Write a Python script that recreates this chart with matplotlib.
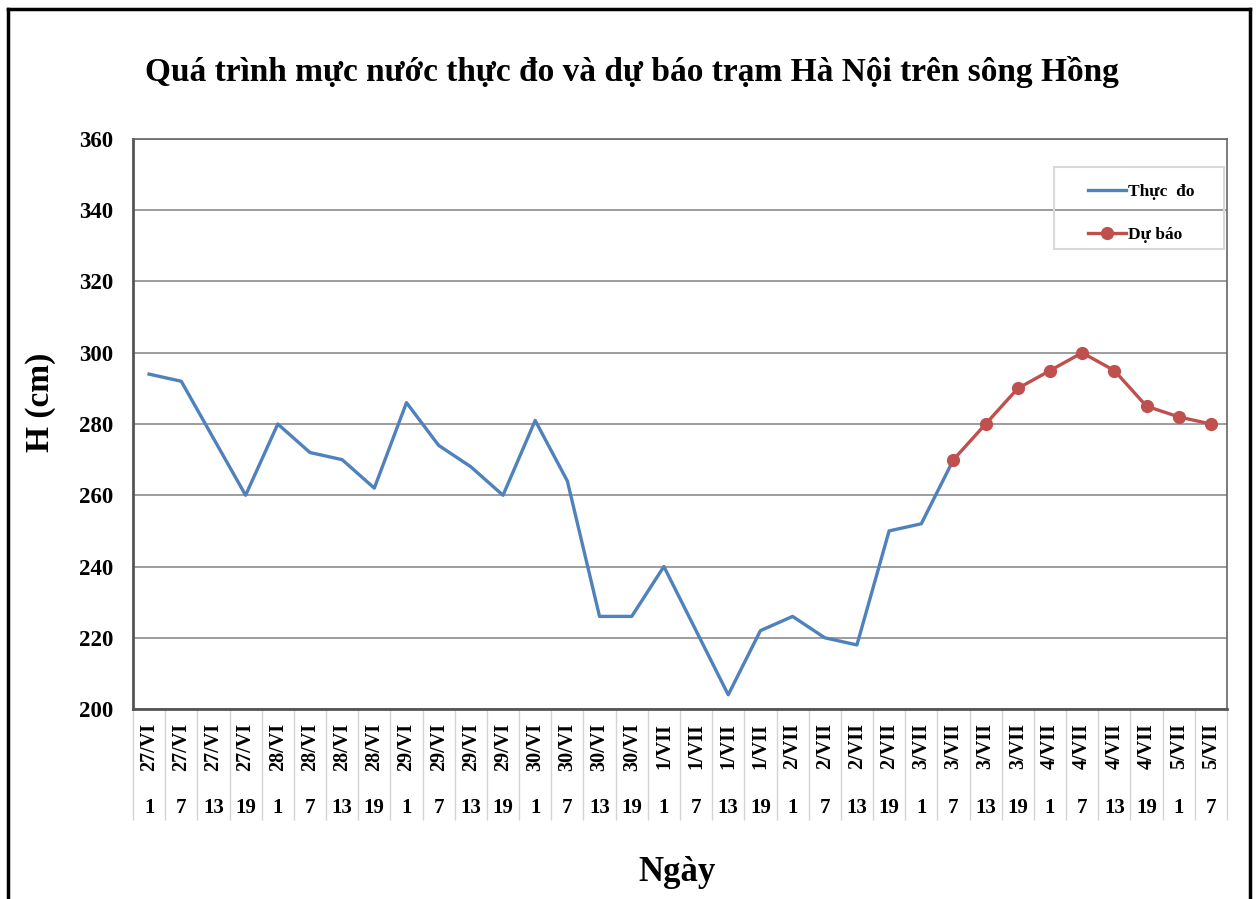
import matplotlib
matplotlib.use("Agg")
import matplotlib.pyplot as plt
from matplotlib.lines import Line2D
from matplotlib.patches import Rectangle
import numpy as np

plt.rcParams['font.family'] = ['Liberation Serif', 'DejaVu Serif']
plt.rcParams['font.weight'] = 'bold'

# category labels (day / hour)
days = ["27/VI"] * 4 + ["28/VI"] * 4 + ["29/VI"] * 4 + ["30/VI"] * 4 + \
       ["1/VII"] * 4 + ["2/VII"] * 4 + ["3/VII"] * 4 + ["4/VII"] * 4 + ["5/VII"] * 2
hours = ["1", "7", "13", "19"] * 8 + ["1", "7"]

# observed water level (cm), up to 3/VII 7h
thuc_do = [294, 292, 276, 260, 280, 272, 270, 262, 286, 274, 268, 260,
           281, 264, 226, 226, 240, 222, 204, 222, 226, 220, 218, 250,
           252, 270]
# forecast from 3/VII 7h
du_bao = [270, 280, 290, 295, 300, 295, 285, 282, 280]

n = len(days)
x_obs = np.arange(len(thuc_do))
x_fc = np.arange(len(thuc_do) - 1, len(thuc_do) - 1 + len(du_bao))

fig = plt.figure(figsize=(12.57, 8.99), dpi=100)
ax = fig.add_axes([0.1058, 0.2113, 0.8703, 0.6341])

ax.plot(x_obs, thuc_do, color='#4F81BD', lw=2.4, label='Thực  đo', zorder=3)
ax.plot(x_fc, du_bao, color='#C0504D', lw=2.4, marker='o', ms=8.5,
        label='Dự báo', zorder=4)

ax.set_xlim(-0.5, n - 0.5)
ax.set_ylim(200, 360)
ax.set_yticks(np.arange(200, 361, 20))
ax.yaxis.grid(True, color='#8c8c8c', lw=1.2)
ax.set_axisbelow(True)
ax.tick_params(axis='y', length=0, pad=14, labelsize=16.5)
for lab in ax.get_yticklabels():
    lab.set_fontweight('bold')

# category separators below the axis
ax.set_xticks([])
ax.set_xticks(np.arange(n + 1) - 0.5, minor=True)
ax.tick_params(axis='x', which='minor', length=80, width=1, color='#d4d4d4', direction='out')

for i in range(n):
    ax.annotate(days[i], xy=(i, 0), xycoords=('data', 'axes fraction'),
                xytext=(0, -10), textcoords='offset points', rotation=90,
                ha='center', va='top', fontsize=14.5, fontweight='bold')
    ax.annotate(hours[i], xy=(i, 0), xycoords=('data', 'axes fraction'),
                xytext=(0, -71), textcoords='offset points',
                ha='center', va='center', fontsize=15, fontweight='bold')

for side in ['left', 'bottom']:
    ax.spines[side].set_color('#555555')
    ax.spines[side].set_linewidth(2)
for side in ['top', 'right']:
    ax.spines[side].set_color('#666666')
    ax.spines[side].set_linewidth(1.2)

fig.text(0.032, 0.553, 'H (cm)', rotation=90, ha='center', va='center',
         fontsize=24, fontweight='bold')
fig.text(0.539, 0.029, 'Ngày', ha='center', va='center', fontsize=25, fontweight='bold')
fig.text(0.503, 0.92, 'Quá trình mực nước thực đo và dự báo trạm Hà Nội trên sông Hồng',
         ha='center', va='center', fontsize=24, fontweight='bold')

# legend box drawn separately, legend itself frameless
ax.add_patch(Rectangle((0.842, 0.807), 0.155, 0.144, transform=ax.transAxes,
                       facecolor='none', edgecolor='#d9d9d9', lw=1.5, zorder=5))
leg = ax.legend(loc='upper left', bbox_to_anchor=(0.873, 0.922), fontsize=12.5,
                frameon=False, handlelength=2.2, borderpad=0, labelspacing=1.55,
                handletextpad=0.1, borderaxespad=0)
for t in leg.get_texts():
    t.set_fontweight('bold')

# outer chart border
for xs, ys in [([0.0064, 0.0064], [0.99, 0.0]),
               ([0.0064, 0.9944], [0.99, 0.99]),
               ([0.9944, 0.9944], [0.99, 0.0])]:
    fig.add_artist(Line2D(xs, ys, color='black', lw=2.5, transform=fig.transFigure))

fig.savefig('out.png', dpi=100)
